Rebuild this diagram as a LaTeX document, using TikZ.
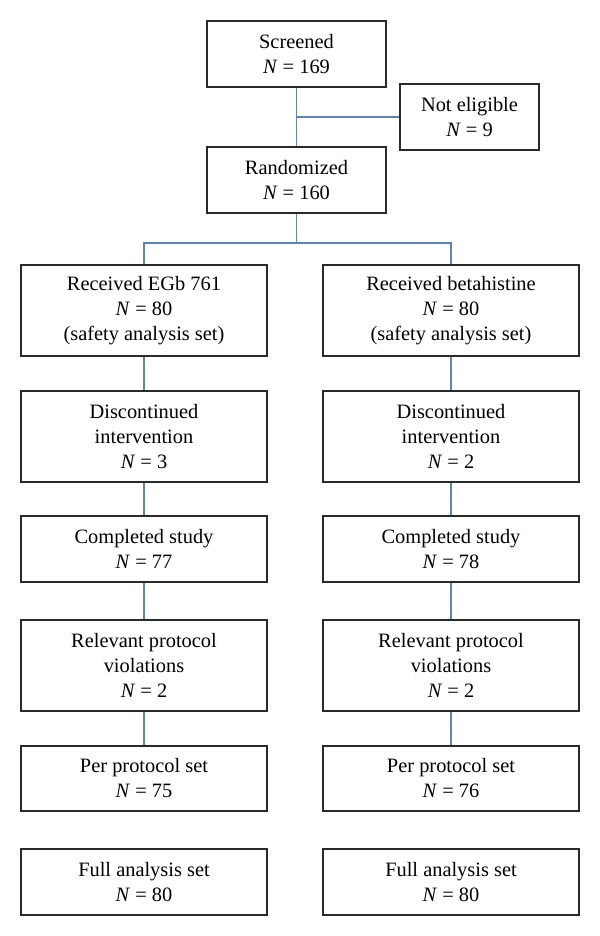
\documentclass[tikz,border=0pt]{standalone}
\usepackage{fontspec}
\setmainfont{Liberation Serif}
\definecolor{linkblue}{HTML}{5B85B9}
\definecolor{boxgray}{HTML}{2A2A2A}
\tikzset{
  box/.style={draw=boxgray, line width=1.3pt, rectangle, inner sep=0pt, align=center,
    font=\fontsize{15.3}{18.75}\selectfont},
  link/.style={draw=linkblue, line width=1.1pt},
}
\newcommand{\NN}[1]{\textit{N}~=~#1}
\begin{document}
\begin{tikzpicture}[x=0.75pt,y=-0.75pt]
\useasboundingbox (0,0) rectangle (600,936);
\fill[white] (0,0) rectangle (600,936);
% top
\node[box, minimum width=179*0.75pt, minimum height=66*0.75pt] (scr) at (296.5,54) {Screened\\\NN{169}};
\node[box, minimum width=139*0.75pt, minimum height=66*0.75pt] (ne) at (469.5,117) {Not eligible\\\NN{9}};
\node[box, minimum width=179*0.75pt, minimum height=66*0.75pt] (ran) at (296.5,180) {Randomized\\\NN{160}};
% left column
\node[box, minimum width=246*0.75pt, minimum height=91*0.75pt] (l1) at (144,310.5) {Received EGb 761\\\NN{80}\\(safety analysis set)};
\node[box, minimum width=246*0.75pt, minimum height=91*0.75pt] (l2) at (144,436.5) {Discontinued\\intervention\\\NN{3}};
\node[box, minimum width=246*0.75pt, minimum height=66*0.75pt] (l3) at (144,549) {Completed study\\\NN{77}};
\node[box, minimum width=246*0.75pt, minimum height=91*0.75pt] (l4) at (144,665.5) {Relevant protocol\\violations\\\NN{2}};
\node[box, minimum width=246*0.75pt, minimum height=65*0.75pt] (l5) at (144,778.5) {Per protocol set\\\NN{75}};
\node[box, minimum width=246*0.75pt, minimum height=66*0.75pt] (l6) at (144,882) {Full analysis set\\\NN{80}};
% right column
\node[box, minimum width=256*0.75pt, minimum height=91*0.75pt] (r1) at (451,310.5) {Received betahistine\\\NN{80}\\(safety analysis set)};
\node[box, minimum width=256*0.75pt, minimum height=91*0.75pt] (r2) at (451,436.5) {Discontinued\\intervention\\\NN{2}};
\node[box, minimum width=256*0.75pt, minimum height=66*0.75pt] (r3) at (451,549) {Completed study\\\NN{78}};
\node[box, minimum width=256*0.75pt, minimum height=91*0.75pt] (r4) at (451,665.5) {Relevant protocol\\violations\\\NN{2}};
\node[box, minimum width=256*0.75pt, minimum height=65*0.75pt] (r5) at (451,778.5) {Per protocol set\\\NN{76}};
\node[box, minimum width=256*0.75pt, minimum height=66*0.75pt] (r6) at (451,882) {Full analysis set\\\NN{80}};
% connectors
\coordinate (split) at (296.5,243);
\coordinate (junc) at (296.5,117);
\draw[link] (scr.south) -- (ran.north);
\draw[link] (junc) -- (ne.west);
\draw[link] (ran.south) -- (split);
\draw[link] (l1.north) |- (split) -| (r1.north);
\draw[link] (l1) -- (l2);
\draw[link] (l2) -- (l3);
\draw[link] (l3) -- (l4);
\draw[link] (l4) -- (l5);
\draw[link] (r1) -- (r2);
\draw[link] (r2) -- (r3);
\draw[link] (r3) -- (r4);
\draw[link] (r4) -- (r5);
\end{tikzpicture}
\end{document}
